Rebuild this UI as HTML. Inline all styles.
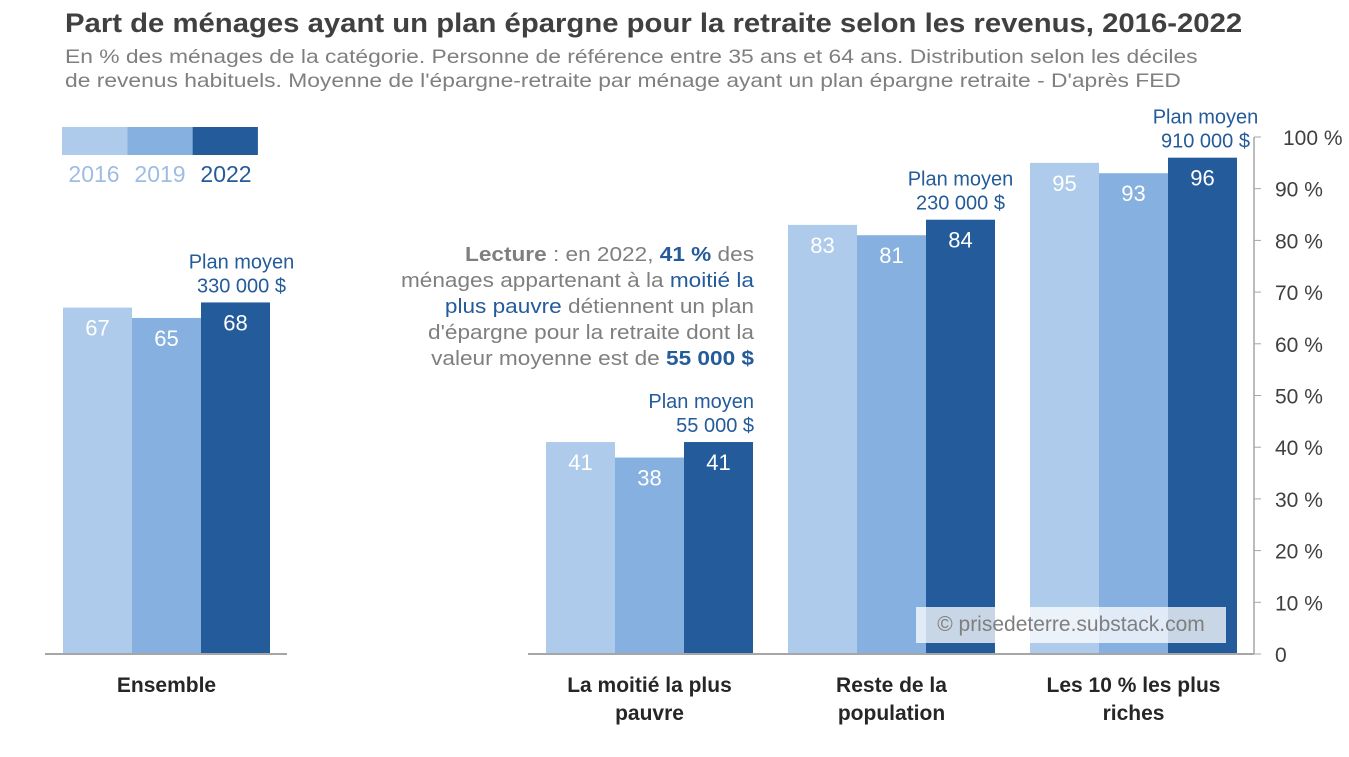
<!DOCTYPE html>
<html><head><meta charset="utf-8"><style>
body{margin:0;background:#fff;font-family:"Liberation Sans",sans-serif}
#wrap{position:relative;width:1349px;height:757px;overflow:hidden}
.t{position:absolute;white-space:nowrap}
</style></head><body>
<div id="wrap">
<div class="t" style="left:65px;top:8px;font-size:27px;font-weight:bold;color:#404040;transform:scaleX(1.085);transform-origin:0 0">Part de ménages ayant un plan épargne pour la retraite selon les revenus, 2016-2022</div>
<div class="t" style="left:65px;top:45px;font-size:19.5px;line-height:24px;color:#7f7f7f;transform:scaleX(1.17);transform-origin:0 0">En % des ménages de la catégorie. Personne de référence entre 35 ans et 64 ans. Distribution selon les déciles<br>de revenus habituels. Moyenne de l'épargne-retraite par ménage ayant un plan épargne retraite - D'après FED</div>
<div class="t" style="left:354px;top:242px;width:400px;text-align:right;font-size:20px;line-height:26px;color:#7f7f7f;transform:scaleX(1.13);transform-origin:100% 0"><b>Lecture</b> : en 2022, <b style="color:#245b9a">41 %</b> des<br>ménages appartenant à la <span style="color:#245b9a">moitié la</span><br><span style="color:#245b9a">plus pauvre</span> détiennent un plan<br>d'épargne pour la retraite dont la<br>valeur moyenne est de <b style="color:#245b9a">55 000 $</b></div>
<svg id="svg" width="1349" height="757" style="position:absolute;left:0;top:0"></svg>
<div class="t" style="left:916px;top:607px;width:310px;height:36px;background:rgba(255,255,255,0.75);font-size:21px;line-height:36px;text-align:center;color:#7f7f7f">© prisedeterre.substack.com</div>
</div>
<script>
const categories=["Ensemble","La moitié la plus|pauvre","Reste de la|population","Les 10 %  les plus|riches"];
const years=["2016","2019","2022"];
const v2016=[67,41,83,95];
const v2019=[65,38,81,93];
const v2022=[68,41,84,96];
const avgPlan=["330 000 $","55 000 $","230 000 $","910 000 $"];
const yTicks=[0,10,20,30,40,50,60,70,80,90,100];
const colors=["#aecbeb","#85b0e0","#245b9a"];
const groupX=[63,546,788,1030], barW=69;
const y=v=>654-v*5.17;
const svg=document.getElementById('svg');const NS="http://www.w3.org/2000/svg";
function mk(t,a,txt){const e=document.createElementNS(NS,t);for(const k in a)e.setAttribute(k,a[k]);if(txt!=null)e.textContent=txt;svg.appendChild(e);return e;}
const series=[v2016,v2019,v2022];
categories.forEach((c,i)=>{
  series.forEach((s,j)=>{
    const x=groupX[i]+j*barW;
    const r=mk('rect',{x:x,y:y(s[i]),width:barW,height:654-y(s[i]),fill:colors[j]});
    
    
    const t=mk('text',{x:x+barW/2,y:y(s[i])+28,'text-anchor':'middle','font-size':22,fill:'#fff'},s[i]);
    
    
  });
  const top=y(v2022[i]);
  let cx=groupX[i]+2.5*barW, anchor='middle';
  if(i===0)cx+=6;
  if(i===3)cx+=3;
  if(i===1){cx=groupX[i]+3*barW+1;anchor='end';}
  const a1=mk('text',{x:cx,y:top-34,'text-anchor':anchor,'font-size':20,fill:'#245b9a'},'Plan moyen');
  
  
  const a2=mk('text',{x:cx,y:top-10,'text-anchor':anchor,'font-size':20,fill:'#245b9a'},avgPlan[i]);
  
  
  c.split('|').forEach((ln,k)=>{
    const t=mk('text',{x:groupX[i]+1.5*barW,y:692+k*28,'text-anchor':'middle','font-size':21,'font-weight':'bold',fill:'#262626','xml:space':'preserve'},ln);
    
    
  });
});
let b=mk('line',{x1:45,x2:287,y1:654,y2:654,stroke:'#a6a6a6','stroke-width':2});

b=mk('line',{x1:528,x2:1254,y1:654,y2:654,stroke:'#a6a6a6','stroke-width':2});

b=mk('line',{x1:1254,x2:1254,y1:y(100),y2:654,stroke:'#a6a6a6','stroke-width':1.5});

yTicks.forEach(v=>{
  const l=mk('line',{x1:1254,x2:1261,y1:y(v),y2:y(v),stroke:'#a6a6a6'});
  
  
  const t=mk('text',{x:v===100?1283:1275,y:y(v)+8,'font-size':21,fill:'#404040'},v===0?'0':v+' %');
  
  
});
const legCol=['#9dbde3','#9dbde3','#245b9a'];
years.forEach((yr,j)=>{
  const r=mk('rect',{x:62+j*65.3,y:127,width:65.3,height:28,fill:colors[j]});
  
  
  const t=mk('text',{x:94+j*66,y:182,'text-anchor':'middle','font-size':23,fill:legCol[j]},yr);
  
  
});
</script>
</body></html>
